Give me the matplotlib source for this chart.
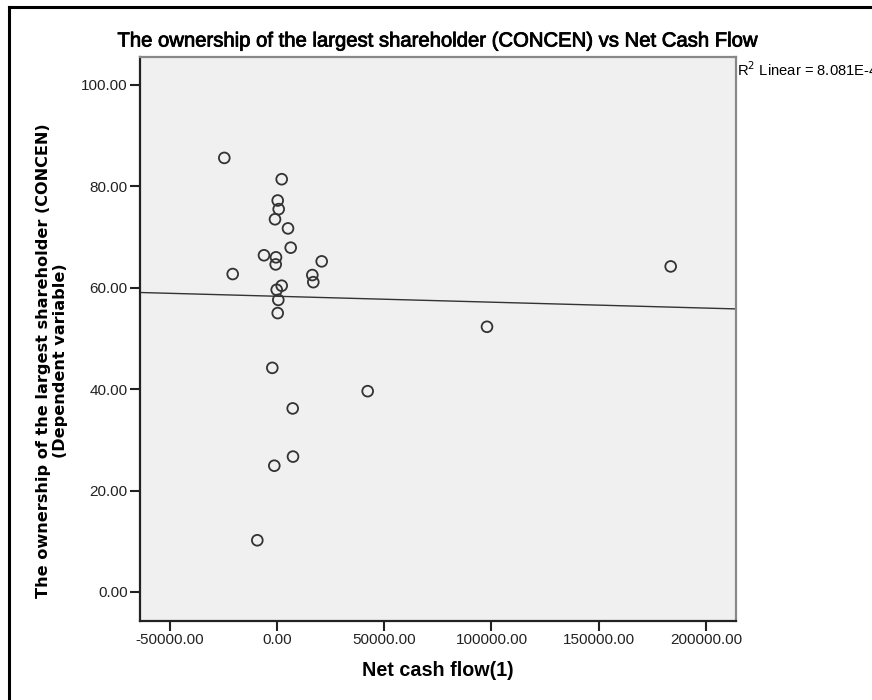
import numpy as np
import matplotlib
matplotlib.use('Agg')
from matplotlib import pyplot as plt
from matplotlib import patheffects
from matplotlib.lines import Line2D
from matplotlib.ticker import FormatStrFormatter


# Données
net_cash_flow = [-24570, 2190, 330, 790, -930, 5130, 6390, -6060, -470, -610,
                 20840, -20650, 16460, 16920, 2190, -140, 610, 330, -2190, 42280,
                 7320, 7460, -1260, -9180, 183540, 97900]
concen = [85.6, 81.4, 77.2, 75.5, 73.5, 71.7, 67.9, 66.4, 66.0, 64.6,
          65.2, 62.7, 62.5, 61.1, 60.4, 59.6, 57.6, 55.0, 44.2, 39.6,
          36.2, 26.7, 24.9, 10.2, 64.2, 52.3]

x_ticks = [-50000, 0, 50000, 100000, 150000, 200000]
y_ticks = [0, 20, 40, 60, 80, 100]

titre = 'The ownership of the largest shareholder (CONCEN) vs Net Cash Flow'
label_x = 'Net cash flow(1)'
label_y = 'The ownership of the largest shareholder (CONCEN)\n(Dependent variable)'
texte_r2 = 'R$^2$ Linear = 8.081E-4'

x = np.array(net_cash_flow)
y = np.array(concen)

fig = plt.figure(figsize=(8.72, 7), dpi=100)
fig.patch.set_facecolor('white')

# cadre extérieur (style SPSS) : seuls les bords gauche et haut sont visibles
fig.add_artist(Line2D([9 / 872, 9 / 872], [0, 1 - 7 / 700], transform=fig.transFigure,
                      color='black', linewidth=2.2, solid_capstyle='projecting'))
fig.add_artist(Line2D([9 / 872, 1], [1 - 7 / 700, 1 - 7 / 700], transform=fig.transFigure,
                      color='black', linewidth=2.2, solid_capstyle='projecting'))

ax = fig.add_axes([140 / 872, 79 / 700, 596 / 872, 564 / 700])
ax.set_facecolor('#f0f0f0')

ax.scatter(x, y, s=60, facecolors='none', edgecolors='#333333', linewidths=1.3, zorder=3)

# droite de régression linéaire
pente, ordonnee = np.polyfit(x, y, 1)
xlim = (-63870, 213990)
xs = np.array(xlim)
ax.plot(xs, ordonnee + pente * xs, color='#333333', linewidth=1.0, zorder=2)

ax.set_xlim(xlim)
ax.set_ylim(-5.72, 105.5)
ax.set_xticks(x_ticks)
ax.set_yticks(y_ticks)
ax.xaxis.set_major_formatter(FormatStrFormatter('%.2f'))
ax.yaxis.set_major_formatter(FormatStrFormatter('%.2f'))
ax.tick_params(direction='out', length=7, width=1.5, color='#222222',
               labelsize=11, labelcolor='#222222', pad=2)
for lab in ax.get_xticklabels() + ax.get_yticklabels():
    lab.set_fontfamily('Liberation Sans')

for cote in ['left', 'bottom']:
    ax.spines[cote].set_color('#222222')
    ax.spines[cote].set_linewidth(1.6)
for cote in ['top', 'right']:
    ax.spines[cote].set_color('#888888')
    ax.spines[cote].set_linewidth(1.6)

fig.text(437 / 872, 1 - 41 / 700, titre, ha='center', va='center',
         fontsize=14.6, family='Liberation Sans', color='black',
         path_effects=[patheffects.withStroke(linewidth=0.6, foreground='black')])
fig.text(438 / 872, 1 - 671 / 700, label_x, ha='center', va='center',
         fontsize=14.2, fontweight='bold', family='Liberation Sans', color='black')
fig.text(52 / 872, 1 - 361 / 700, label_y, ha='center', va='center', rotation=90,
         fontsize=11.6, fontweight='bold', family='DejaVu Sans', color='black',
         multialignment='center', linespacing=1.2)
fig.text(737 / 872, 1 - 70 / 700, texte_r2, ha='left', va='center',
         fontsize=10.6, family='Liberation Sans', color='black')

fig.savefig('out.png', dpi=100)
